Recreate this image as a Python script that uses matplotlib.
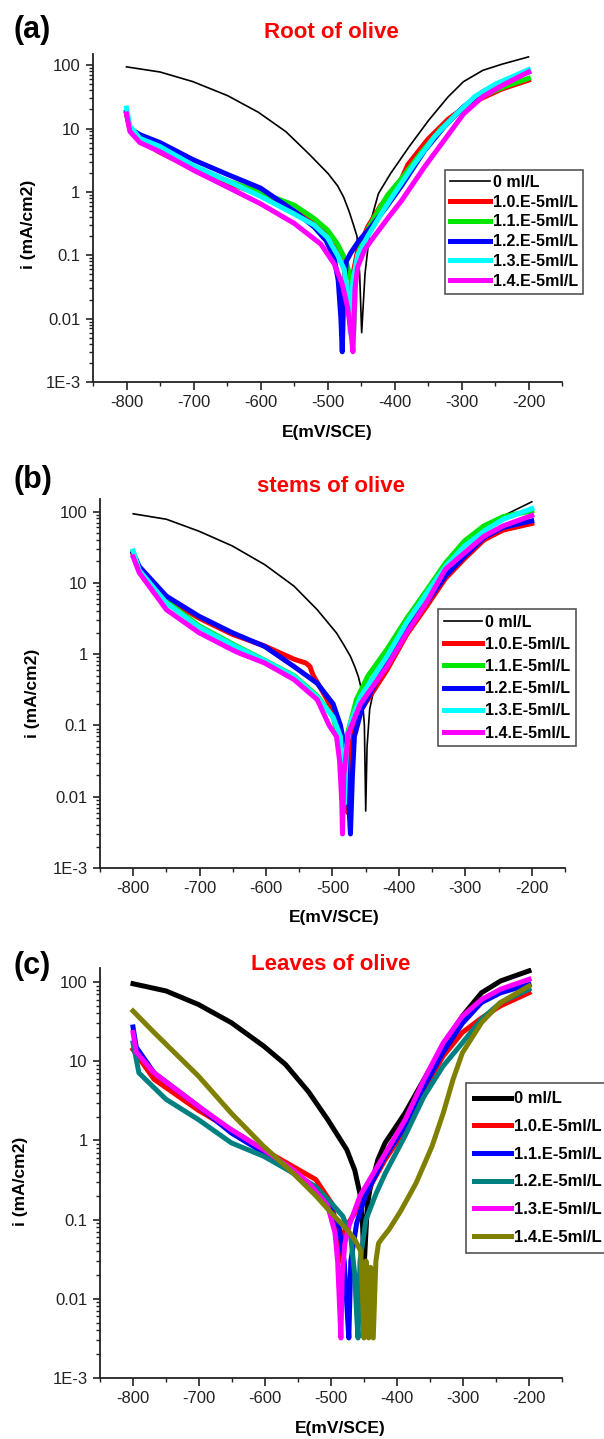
import numpy as np
import matplotlib
matplotlib.use('Agg')
import matplotlib.pyplot as plt
from matplotlib.ticker import FixedLocator, FixedFormatter, LogLocator, NullFormatter, MultipleLocator

plt.rcParams['font.family'] = ['Liberation Sans', 'DejaVu Sans']
plt.rcParams['axes.unicode_minus'] = False

labels_abc = ['0 ml/L', '1.0.E-5ml/L', '1.1.E-5ml/L', '1.2.E-5ml/L', '1.3.E-5ml/L', '1.4.E-5ml/L']
colors_ab = ['black', '#ff0000', '#00e600', '#0000ff', '#00ffff', '#ff00ff']
colors_c = ['black', '#ff0000', '#0000ff', '#008080', '#ff00ff', '#808000']

ytick_vals = [1e-3, 1e-2, 1e-1, 1, 10, 100]
ytick_labels = ['1E-3', '0.01', '0.1', '1', '10', '100']
xtick_vals = [-800, -700, -600, -500, -400, -300, -200]

# ---- (a) Root of olive ----
root_E0 = [-800, -750, -701, -649, -603, -562, -528, -499, -485, -476, -468, -462, -456, -452, -449, -444, -435, -424, -406, -378, -349, -320, -297, -268, -239, -200]
root_i0 = [94, 78, 55, 33, 18, 8.9, 4.0, 1.94, 1.25, 0.83, 0.5, 0.32, 0.2, 0.05, 0.006, 0.051, 0.36, 0.94, 1.94, 5.2, 13.5, 31.6, 55, 83, 104, 135]
root_E1 = [-800, -795, -780, -750, -700, -650, -600, -550, -520, -500, -485, -475, -470, -466, -462, -455, -440, -420, -395, -380, -350, -320, -300, -270, -240, -200]
root_i1 = [17, 10, 6.5, 4.2, 2.3, 1.4, 0.9, 0.5, 0.33, 0.2, 0.11, 0.06, 0.02, 0.008, 0.05, 0.12, 0.28, 0.62, 1.2, 2.7, 6.8, 14, 20, 30, 42, 58]
root_E2 = [-800, -795, -780, -750, -700, -650, -600, -550, -520, -500, -485, -472, -465, -461, -458, -455, -445, -430, -410, -390, -360, -330, -300, -270, -240, -200]
root_i2 = [18, 10, 6.5, 4.3, 2.5, 1.5, 0.98, 0.62, 0.38, 0.25, 0.15, 0.08, 0.04, 0.006, 0.04, 0.1, 0.2, 0.4, 0.9, 1.6, 4.2, 10, 20, 32, 44, 62]
root_E3 = [-800, -795, -780, -750, -700, -650, -600, -550, -520, -502, -490, -484, -480, -478, -476, -472, -465, -453, -435, -412, -389, -355, -326, -297, -268, -239, -200]
root_i3 = [18, 10, 8, 6, 3.2, 1.9, 1.15, 0.5, 0.28, 0.17, 0.09, 0.04, 0.01, 0.003, 0.02, 0.08, 0.11, 0.17, 0.28, 0.58, 1.27, 4.5, 10.6, 22, 38, 55, 78]
root_E4 = [-800, -795, -780, -750, -700, -650, -600, -550, -520, -500, -485, -475, -469, -466, -462, -455, -440, -420, -400, -370, -340, -310, -280, -250, -200]
root_i4 = [21, 11, 7, 5.2, 2.6, 1.5, 0.85, 0.45, 0.3, 0.19, 0.1, 0.06, 0.02, 0.006, 0.04, 0.1, 0.2, 0.45, 0.95, 2.8, 7.5, 16, 32, 50, 85]
root_E5 = [-800, -795, -780, -750, -700, -650, -600, -550, -510, -490, -478, -470, -465, -462, -459, -455, -445, -435, -412, -389, -355, -326, -297, -268, -239, -200]
root_i5 = [17, 9, 6, 4.3, 2.2, 1.2, 0.65, 0.32, 0.15, 0.073, 0.035, 0.015, 0.006, 0.003, 0.03, 0.065, 0.12, 0.17, 0.36, 0.74, 2.5, 6.5, 17, 32, 48, 78]

# ---- (b) stems of olive ----
stem_E0 = [-800, -750, -701, -651, -602, -558, -523, -494, -483, -473, -466, -461, -456, -452, -450, -448, -444, -438, -418, -388, -359, -330, -301, -272, -243, -200]
stem_i0 = [93, 78, 53, 33, 18, 9, 4.2, 1.98, 1.35, 0.93, 0.65, 0.48, 0.31, 0.1, 0.0063, 0.05, 0.17, 0.31, 0.93, 2.5, 6.5, 17, 35, 63, 87, 137]
stem_E1 = [-800, -791, -750, -701, -651, -602, -558, -540, -534, -529, -515, -499, -488, -480, -477, -474, -470, -460, -441, -418, -388, -359, -330, -301, -272, -243, -200]
stem_i1 = [25, 16, 6, 3.2, 1.9, 1.3, 0.85, 0.75, 0.67, 0.5, 0.3, 0.16, 0.08, 0.02, 0.006, 0.03, 0.07, 0.15, 0.28, 0.6, 1.9, 4.6, 11.5, 22, 40, 55, 68]
stem_E2 = [-800, -791, -750, -701, -651, -602, -558, -523, -499, -490, -488, -485, -481, -476, -464, -447, -418, -388, -359, -330, -301, -272, -243, -200]
stem_i2 = [27, 16, 5.5, 2.5, 1.4, 0.82, 0.5, 0.26, 0.13, 0.06, 0.019, 0.04, 0.06, 0.087, 0.23, 0.49, 1.17, 3.2, 7.7, 19, 39, 63, 85, 102]
stem_E3 = [-800, -791, -750, -701, -651, -602, -558, -523, -499, -488, -480, -476, -473, -470, -467, -456, -441, -418, -388, -359, -330, -301, -272, -243, -200]
stem_i3 = [26, 17, 6.5, 3.4, 2.0, 1.28, 0.67, 0.39, 0.2, 0.1, 0.04, 0.01, 0.003, 0.02, 0.07, 0.17, 0.31, 0.75, 2.2, 5.2, 12.5, 23.7, 43, 60, 74]
stem_E4 = [-800, -791, -750, -701, -651, -602, -558, -523, -499, -488, -484, -482, -479, -473, -458, -418, -388, -359, -330, -301, -272, -243, -200]
stem_i4 = [28, 15, 5.2, 2.4, 1.35, 0.81, 0.49, 0.25, 0.13, 0.07, 0.02, 0.008, 0.05, 0.108, 0.25, 0.93, 2.8, 7, 17, 33, 53, 78, 110]
stem_E5 = [-800, -791, -750, -701, -651, -640, -602, -558, -523, -505, -494, -489, -486, -485, -483, -476, -458, -418, -388, -359, -330, -301, -272, -243, -200]
stem_i5 = [23, 13.9, 4.2, 2.0, 1.15, 1.03, 0.75, 0.44, 0.23, 0.1, 0.07, 0.03, 0.008, 0.003, 0.02, 0.078, 0.2, 0.67, 2, 5.2, 15.5, 26.5, 45, 63, 88]

# ---- (c) Leaves of olive ----
leaf_E0 = [-800, -750, -701, -651, -602, -569, -534, -505, -476, -464, -456, -452, -450, -448, -445, -441, -429, -418, -388, -359, -330, -301, -272, -243, -200]
leaf_i0 = [95, 77, 52, 30.6, 15.5, 9.1, 4.1, 1.83, 0.76, 0.42, 0.21, 0.08, 0.023, 0.05, 0.15, 0.24, 0.57, 0.93, 2.2, 5.9, 15.5, 37, 73, 103, 138]
leaf_E1 = [-800, -768, -701, -651, -602, -558, -523, -499, -490, -486, -484, -478, -464, -441, -418, -388, -359, -330, -301, -272, -243, -200]
leaf_i1 = [14, 5.9, 2.4, 1.36, 0.76, 0.47, 0.32, 0.16, 0.07, 0.03, 0.05, 0.08, 0.12, 0.26, 0.57, 1.36, 4.4, 11.6, 23, 35, 50, 73]
leaf_E2 = [-800, -795, -768, -701, -651, -602, -558, -534, -505, -488, -480, -475, -473, -470, -461, -447, -418, -388, -359, -330, -301, -272, -243, -200]
leaf_i2 = [27, 15, 7.1, 2.7, 1.24, 0.7, 0.39, 0.26, 0.16, 0.082, 0.03, 0.006, 0.0032, 0.03, 0.091, 0.21, 0.63, 1.5, 4.8, 13, 30, 55, 73, 93]
leaf_E3 = [-800, -791, -750, -701, -651, -602, -558, -523, -499, -482, -470, -464, -461, -459, -456, -447, -432, -418, -388, -359, -330, -301, -272, -243, -200]
leaf_i3 = [17, 7.1, 3.3, 1.83, 0.93, 0.63, 0.39, 0.26, 0.16, 0.11, 0.06, 0.02, 0.006, 0.0032, 0.03, 0.1, 0.21, 0.38, 1.13, 3.6, 8.7, 17, 34, 55, 81]
leaf_E4 = [-800, -795, -768, -701, -651, -602, -558, -534, -505, -494, -490, -487, -485, -483, -479, -473, -456, -418, -388, -359, -330, -301, -272, -243, -200]
leaf_i4 = [23, 13, 7.1, 2.7, 1.36, 0.76, 0.43, 0.29, 0.15, 0.068, 0.03, 0.008, 0.0032, 0.02, 0.05, 0.082, 0.2, 0.68, 1.8, 5.9, 17, 37, 60, 81, 108]
leaf_E5 = [-800, -768, -701, -651, -602, -558, -523, -499, -476, -464, -455, -452, -450, -447, -443, -440, -436, -432, -428, -424, -412, -394, -371, -347, -330, -315, -301, -272, -243, -200]
leaf_i5 = [43, 23, 6.5, 2.2, 0.84, 0.39, 0.2, 0.12, 0.075, 0.056, 0.04, 0.01, 0.0032, 0.03, 0.0032, 0.025, 0.0032, 0.03, 0.05, 0.056, 0.075, 0.13, 0.29, 0.84, 2.2, 5.9, 12.7, 30.6, 55, 89]


def draw_panel(fig, rect, series, colors, widths, title, letter, title_y, letter_y,
               xlabel_xy, ylabel_xy, leg_xy, leg_size, leg_spacing, leg_handle, leg_pad):
    ax = fig.add_axes(rect)
    for (E, i), c, w, lab in zip(series, colors, widths, labels_abc):
        ax.plot(E, i, color=c, lw=w, label=lab)
    ax.set_yscale('log')
    ax.set_xlim(-850, -150)
    ax.set_ylim(1e-3, 150)
    ax.yaxis.set_major_locator(FixedLocator(ytick_vals))
    ax.yaxis.set_major_formatter(FixedFormatter(ytick_labels))
    ax.yaxis.set_minor_locator(LogLocator(base=10, subs=np.arange(2, 10)))
    ax.yaxis.set_minor_formatter(NullFormatter())
    ax.xaxis.set_major_locator(FixedLocator(xtick_vals))
    ax.xaxis.set_minor_locator(MultipleLocator(50))
    for s in ['top', 'right']:
        ax.spines[s].set_visible(False)
    for s in ['left', 'bottom']:
        ax.spines[s].set_linewidth(1.3)
        ax.spines[s].set_color('#222222')
    ax.tick_params(which='major', direction='out', length=5, width=1.2, labelsize=12, pad=4, colors='#222222')
    ax.tick_params(which='minor', direction='out', length=3, width=1.0, colors='#222222')
    ax.tick_params(axis='x', which='major', length=5.5)

    fig.text(0.548, title_y, title, color='red', fontsize=16, fontweight='bold', ha='center', va='center')
    fig.text(0.022, letter_y, letter, color='black', fontsize=22, fontweight='bold', ha='left', va='center')
    fig.text(xlabel_xy[0], xlabel_xy[1], 'E(mV/SCE)', fontsize=12.5, fontweight='bold', ha='center', va='center')
    fig.text(ylabel_xy[0], ylabel_xy[1], 'i (mA/cm2)', fontsize=12.5, fontweight='bold', ha='center', va='center',
             rotation=90)

    leg = ax.legend(loc='upper left', bbox_to_anchor=leg_xy, bbox_transform=fig.transFigure,
                    prop={'size': leg_size, 'weight': 'bold'}, frameon=True, fancybox=False,
                    framealpha=1, edgecolor='#555555', handlelength=leg_handle, handletextpad=0.2,
                    labelspacing=leg_spacing, borderpad=leg_pad, borderaxespad=0)
    leg.get_frame().set_linewidth(1.2)
    return ax


def main():
    W, H = 604, 1439
    fig = plt.figure(figsize=(W / 100, H / 100), dpi=100)

    def fx(px):
        return px / W

    def fy(py):
        return 1 - py / H

    def rect(l, r, t, b):
        return [fx(l), fy(b), fx(r) - fx(l), (b - t) / H]

    root = [(root_E0, root_i0), (root_E1, root_i1), (root_E2, root_i2),
            (root_E3, root_i3), (root_E4, root_i4), (root_E5, root_i5)]
    stem = [(stem_E0, stem_i0), (stem_E1, stem_i1), (stem_E2, stem_i2),
            (stem_E3, stem_i3), (stem_E4, stem_i4), (stem_E5, stem_i5)]
    leaf = [(leaf_E0, leaf_i0), (leaf_E1, leaf_i1), (leaf_E2, leaf_i2),
            (leaf_E3, leaf_i3), (leaf_E4, leaf_i4), (leaf_E5, leaf_i5)]

    thin = [1.2, 3.6, 3.6, 3.6, 3.6, 3.6]
    thick = [3.6] * 6

    draw_panel(fig, rect(93, 562, 54, 382), root, colors_ab, thin, 'Root of olive', '(a)',
               fy(32), fy(30), (fx(327), fy(432)), (fx(28), fy(224)),
               (fx(445), fy(170)), 11.5, 0.3, 2.5, 0.3)
    draw_panel(fig, rect(100, 565, 499, 868), stem, colors_ab, thin, 'stems of olive', '(b)',
               fy(487), fy(480), (fx(334), fy(918)), (fx(33), fy(693)),
               (fx(438), fy(609)), 11.5, 0.45, 2.4, 0.35)
    draw_panel(fig, rect(100, 562, 968, 1378), leaf, colors_c, thick, 'Leaves of olive', '(c)',
               fy(965), fy(966), (fx(340), fy(1429)), (fx(21), fy(1181)),
               (fx(466), fy(1083)), 12, 0.76, 2.2, 0.5)

    fig.savefig('out.png', dpi=100)


if __name__ == "__main__":
    main()
